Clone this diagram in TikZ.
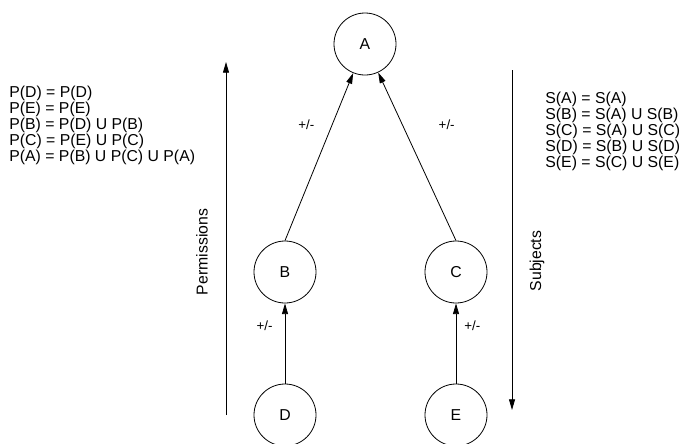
\documentclass[tikz,border=0pt]{standalone}
\usepackage{fontspec}
\setmainfont{Liberation Sans}
\usetikzlibrary{arrows.meta}

\begin{document}
\begin{tikzpicture}[x=0.75pt, y=-0.75pt, line width=0.6pt,
            entity/.style={draw, circle, minimum size=46.5pt, inner sep=0pt, font=\fontsize{11.85}{14}\selectfont},
            change/.style={inner sep=0pt, font=\fontsize{10}{11}\selectfont},
            eqs/.style={align=left, inner sep=0pt, anchor=north west, font=\fontsize{11.85}{12}\selectfont},
            axis/.style={inner sep=0pt, rotate=90, font=\fontsize{11.85}{14}\selectfont},
            >={Triangle[length=8pt, width=4.5pt]}
            ]
            \useasboundingbox (0,0) rectangle (680,443);

            % Nodes with manual coordinates
            \node[entity] (a) at (365,44) {A};
            \node[entity] (b) at (285,272) {B};
            \node[entity] (c) at (456,272) {C};
            \node[entity] (d) at (285,415) {D};
            \node[entity] (e) at (456,415) {E};

            % Equations
            \node[eqs] (perm) at (9,86) {P(D) = P(D)\\P(E) = P(E)\\P(B) = P(D) U P(B)\\P(C) = P(E) U P(C)\\P(A) = P(B) U P(C) U P(A)};
            \node[eqs] (subj) at (545,92) {S(A) = S(A)\\S(B) = S(A) U S(B)\\S(C) = S(A) U S(C)\\S(D) = S(B) U S(D)\\S(E) = S(C) U S(E)};

            % Direction arrows
            \coordinate (ptop) at (226,62);
            \coordinate (pbot) at (226,415);
            \coordinate (stop) at (512,70);
            \coordinate (sbot) at (512,410);
            \node[axis] (permlbl) at (202,252) {Permissions};
            \node[axis] (subjlbl) at (537,261) {Subjects};
            \draw[->] (pbot) -- (ptop);
            \draw[->] (stop) -- (sbot);

            % Arrows
            \draw[->] (b.north) -- node[change, pos=0.69, left=13pt] {+/-} (a);
            \draw[->] (c.north) -- node[change, pos=0.69, right=27pt] {+/-} (a);
            \draw[->] (d.north) -- node[change, pos=0.72, left=9pt] {+/-} (b.south);
            \draw[->] (e.north) -- node[change, pos=0.72, right=6pt] {+/-} (c.south);
        \end{tikzpicture}
\end{document}
